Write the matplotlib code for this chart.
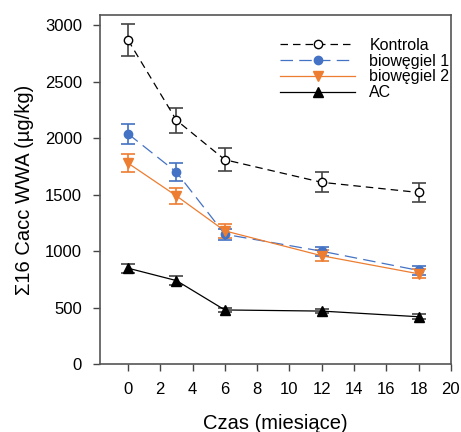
import matplotlib
matplotlib.use("Agg")
import matplotlib.pyplot as plt
from matplotlib.lines import Line2D

plt.rcParams['font.family'] = ['Liberation Sans', 'DejaVu Sans']

months = [0, 3, 6, 12, 18]
kontrola = [2870, 2160, 1810, 1610, 1520]
kontrola_err = [140, 110, 100, 90, 80]
bio1 = [2040, 1700, 1150, 1000, 830]
bio1_err = [90, 80, 50, 40, 40]
bio2 = [1780, 1490, 1180, 960, 800]
bio2_err = [80, 70, 60, 50, 40]
ac = [850, 740, 480, 470, 420]
ac_err = [40, 40, 20, 20, 20]
labels = ['Kontrola', 'biowęgiel 1', 'biowęgiel 2', 'AC']

xticks = list(range(0, 21, 2))
yticks = list(range(0, 3001, 500))

fig = plt.figure(figsize=(4.61, 4.32), dpi=100)
ax = fig.add_axes([0.217, 0.157, 0.761, 0.808])

blue = '#4472C4'
orange = '#ED7D31'

styles = [
    dict(color='black', ls=(0, (6, 4)), marker='o', ms=6, mfc='white', mec='black', ecolor='#444444'),
    dict(color=blue, ls=(0, (10, 5)), marker='o', ms=6, mfc=blue, mec=blue, ecolor=blue),
    dict(color=orange, ls='-', marker='v', ms=7, mfc=orange, mec=orange, ecolor=orange),
    dict(color='black', ls='-', marker='^', ms=7, mfc='black', mec='black', ecolor='#444444'),
]
series = [(kontrola, kontrola_err), (bio1, bio1_err), (bio2, bio2_err), (ac, ac_err)]

handles = []
for (vals, errs), st, lab in zip(series, styles, labels):
    ax.errorbar(months, vals, yerr=errs, fmt='none', ecolor=st['ecolor'], elinewidth=1.2,
                capsize=5, capthick=1.2, zorder=2)
    ax.plot(months, vals, color=st['color'], ls=st['ls'], lw=0.9, marker=st['marker'],
            ms=st['ms'], mfc=st['mfc'], mec=st['mec'], zorder=3)
    handles.append(Line2D([], [], color=st['color'], ls=st['ls'], lw=0.9, marker=st['marker'],
                          ms=st['ms'], mfc=st['mfc'], mec=st['mec']))

ax.set_xlim(-1.73, 20)
ax.set_ylim(0, 3090)
ax.set_xticks(xticks)
ax.set_yticks(yticks)
for s in ax.spines.values():
    s.set_color('#555555')
    s.set_linewidth(1.2)
ax.tick_params(direction='out', length=5, width=1, colors='#444444', labelsize=12,
               labelcolor='black', pad=8)

ax.set_xlabel('Czas (miesiące)', fontsize=14.5, labelpad=12)
ax.set_ylabel('Σ16 Cacc WWA (µg/kg)', fontsize=14.5, labelpad=8)

ax.legend(handles, labels, loc='upper left', bbox_to_anchor=(0.513, 0.935), frameon=False,
          fontsize=11.5, handlelength=4.7, handletextpad=0.9, labelspacing=0.05,
          borderpad=0, borderaxespad=0)

fig.savefig('out.png', dpi=100)
